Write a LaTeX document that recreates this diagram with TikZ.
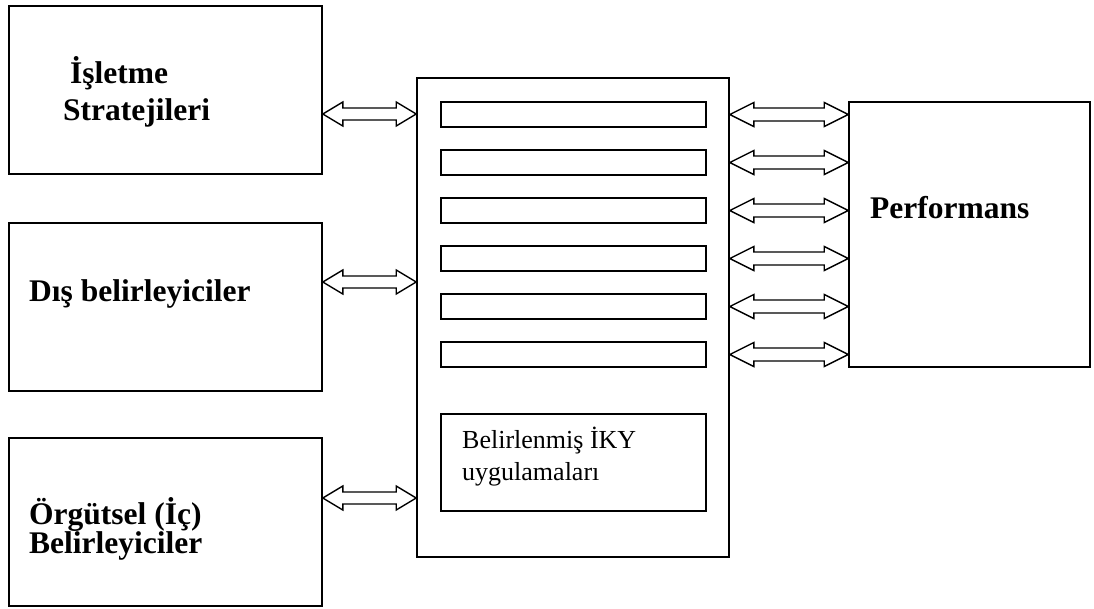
\documentclass[tikz,border=0pt]{standalone}
\usepackage{fontspec}
\setmainfont{Liberation Serif}
\usetikzlibrary{calc}

% hollow two-headed block arrow between two points on the same height
% #1, #2: end points; #3: head length; #4: half head height; #5: half shaft height
\newcommand{\blockarrow}[5]{%
  \draw[arrowline] let \p1=(#1), \p2=(#2) in
    (\x1,\y1) -- ++(#3,#4) -- ++(0,#5-#4) -- (\x2-#3,\y1+#5) -- ++(0,#4-#5)
    -- (\x2,\y1) -- ++(-#3,-#4) -- ++(0,#4-#5) -- (\x1+#3,\y1-#5)
    -- ++(0,#5-#4) -- cycle;}

\begin{document}
\begin{tikzpicture}[x=1pt,y=-1pt,
  box/.style={draw=black, line width=1.6pt, rectangle, inner sep=0pt},
  slot/.style={box, minimum width=265pt, minimum height=25pt},
  lbl/.style={inner sep=0pt, anchor=base west, font=\fontsize{31.5}{36}\selectfont\bfseries},
  small/.style={inner sep=0pt, anchor=base west, font=\fontsize{26}{30}\selectfont},
  arrowline/.style={draw=black, line width=1.4pt, line join=miter}]
\useasboundingbox (0,0) rectangle (1094,608);

% left-hand boxes
\node[box, minimum width=313pt, minimum height=168pt] (strat) at (165.5,90) {};
\node[box, minimum width=313pt, minimum height=168pt] (dis) at (165.5,307) {};
\node[box, minimum width=313pt, minimum height=168pt] (org) at (165.5,522) {};

\node[lbl] (t1) at (70,83) {İşletme};
\node[lbl] (t2) at (63,120) {Stratejileri};
\node[lbl] (t3) at (29,301) {Dış belirleyiciler};
\node[lbl] (t4) at (29,524) {Örgütsel (İç)};
\node[lbl] (t5) at (29,553) {Belirleyiciler};

% central block with its practice slots
\node[box, minimum width=312pt, minimum height=479pt] (mid) at (573,317.5) {};
\node[slot] (b1) at (573.5,114.5) {};
\node[slot] (b2) at (573.5,162.5) {};
\node[slot] (b3) at (573.5,210.5) {};
\node[slot] (b4) at (573.5,258.5) {};
\node[slot] (b5) at (573.5,306.5) {};
\node[slot] (b6) at (573.5,354.5) {};
\node[box, minimum width=265pt, minimum height=97pt] (iky) at (573.5,462.5) {};
\node[small] (t6) at (462,448) {Belirlenmiş İKY};
\node[small] (t7) at (462,480) {uygulamaları};

% outcome box
\node[box, minimum width=241pt, minimum height=265pt] (perf) at (969.5,234.5) {};
\node[lbl] (t8) at (870,218) {Performans};

% heights of the left-hand arrows
\coordinate (h1) at (0,114);
\coordinate (h2) at (0,282);
\coordinate (h3) at (0,498);

\blockarrow{strat.east |- h1}{mid.west |- h1}{20pt}{12pt}{6pt}
\blockarrow{dis.east |- h2}{mid.west |- h2}{20pt}{12pt}{6pt}
\blockarrow{org.east |- h3}{mid.west |- h3}{20pt}{12pt}{6pt}

\foreach \b in {b1,b2,b3,b4,b5,b6}{
  \blockarrow{mid.east |- \b}{perf.west |- \b}{24pt}{12pt}{6.5pt}
}
\end{tikzpicture}
\end{document}
